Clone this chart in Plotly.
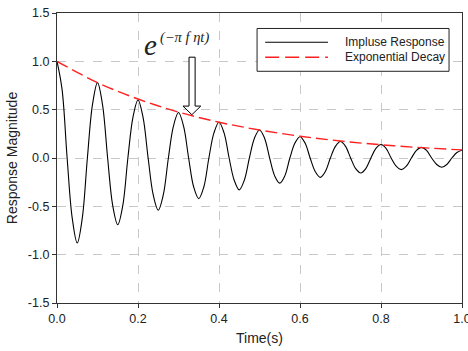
import plotly.graph_objects as go

# Impulse response every 1/80 s
t_resp = [0.0000, 0.0125, 0.0250, 0.0375, 0.0500, 0.0625, 0.0750, 0.0875,
          0.1000, 0.1125, 0.1250, 0.1375, 0.1500, 0.1625, 0.1750, 0.1875,
          0.2000, 0.2125, 0.2250, 0.2375, 0.2500, 0.2625, 0.2750, 0.2875,
          0.3000, 0.3125, 0.3250, 0.3375, 0.3500, 0.3625, 0.3750, 0.3875,
          0.4000, 0.4125, 0.4250, 0.4375, 0.4500, 0.4625, 0.4750, 0.4875,
          0.5000, 0.5125, 0.5250, 0.5375, 0.5500, 0.5625, 0.5750, 0.5875,
          0.6000, 0.6125, 0.6250, 0.6375, 0.6500, 0.6625, 0.6750, 0.6875,
          0.7000, 0.7125, 0.7250, 0.7375, 0.7500, 0.7625, 0.7750, 0.7875,
          0.8000, 0.8125, 0.8250, 0.8375, 0.8500, 0.8625, 0.8750, 0.8875,
          0.9000, 0.9125, 0.9250, 0.9375, 0.9500, 0.9625, 0.9750, 0.9875,
          1.0000]
y_resp = [1.00, 0.71, 0.0, -0.62, -0.88, -0.62, 0.0, 0.55,
          0.78, 0.55, 0.0, -0.49, -0.69, -0.49, 0.0, 0.42,
          0.60, 0.42, 0.0, -0.38, -0.54, -0.38, 0.0, 0.33,
          0.47, 0.33, 0.0, -0.30, -0.42, -0.30, 0.0, 0.26,
          0.37, 0.26, 0.0, -0.23, -0.33, -0.23, 0.0, 0.205,
          0.29, 0.205, 0.0, -0.185, -0.26, -0.185, 0.0, 0.155,
          0.22, 0.155, 0.0, -0.14, -0.20, -0.14, 0.0, 0.12,
          0.17, 0.12, 0.0, -0.11, -0.155, -0.11, 0.0, 0.10,
          0.14, 0.10, 0.0, -0.085, -0.12, -0.085, 0.0, 0.078,
          0.11, 0.078, 0.0, -0.067, -0.095, -0.067, 0.0, 0.057,
          0.08]

# Exponential decay envelope
t_env = [0.0, 0.1, 0.2, 0.3, 0.4, 0.5, 0.6, 0.7, 0.8, 0.9, 1.0]
y_env = [1.00, 0.78, 0.61, 0.475, 0.37, 0.29, 0.225, 0.176, 0.137, 0.107, 0.084]

x_ticks = [0.0, 0.2, 0.4, 0.6, 0.8, 1.0]
x_tick_text = ["0.0", "0.2", "0.4", "0.6", "0.8", "1.0"]
y_ticks = [-1.5, -1.0, -0.5, 0.0, 0.5, 1.0, 1.5]
y_tick_text = ["-1.5", "-1.0", "-0.5", "0.0", "0.5", "1.0", "1.5"]

series_names = ["Impluse Response", "Exponential Decay"]
formula_base = "<i>e</i>"
formula_exp = "<i>(−π f ηt)</i>"

SANS = "Liberation Sans, Arial"
SERIF = "Liberation Serif, Times New Roman"
RED = "#ff2020"

fig = go.Figure()
fig.add_trace(go.Scatter(x=t_resp, y=y_resp, mode="lines", name=series_names[0], showlegend=False,
                         line=dict(color="black", width=1.1, shape="spline", smoothing=1.0)))
fig.add_trace(go.Scatter(x=t_env, y=y_env, mode="lines", name=series_names[1], showlegend=False,
                         line=dict(color=RED, width=1.4, dash="12px,5px", shape="spline")))

axis_common = dict(showline=True, linecolor="#333", linewidth=1.2, mirror=True,
                   ticks="outside", ticklen=4, tickcolor="#333",
                   showgrid=True, gridcolor="#c8c8c8", griddash="dash", gridwidth=1,
                   zeroline=False, automargin=False,
                   tickfont=dict(family=SANS, size=12.5, color="#222"))

fig.update_xaxes(range=[0, 1.0], tickvals=x_ticks, ticktext=x_tick_text,
                 ticklabeloverflow="allow",
                 title=dict(text="Time(s)", font=dict(family=SANS, size=14, color="#222"), standoff=8),
                 **axis_common)
fig.update_yaxes(range=[-1.5, 1.5], tickvals=y_ticks, ticktext=y_tick_text,
                 title=dict(text="Response Magnitude", font=dict(family=SANS, size=14, color="#222"), standoff=6),
                 **axis_common)

# Hollow downward arrow
fig.add_shape(type="path", xref="x", yref="y",
              path="M 0.326 1.043 L 0.341 1.043 L 0.341 0.537 L 0.355 0.537 L 0.333 0.448 "
                   "L 0.311 0.537 L 0.326 0.537 Z",
              line=dict(color="black", width=1), fillcolor="white", layer="above")

fig.add_annotation(x=0.249, y=1.17, xref="x", yref="y", text=formula_base, showarrow=False,
                   xanchor="right", borderpad=0,
                   font=dict(family=SERIF, size=29, color="#222"))
fig.add_annotation(x=0.251, y=1.25, xref="x", yref="y", text=formula_exp, showarrow=False,
                   xanchor="left", borderpad=0,
                   font=dict(family=SERIF, size=14.5, color="#222"))

# Legend box drawn manually
fig.add_shape(type="rect", xref="x", yref="y", x0=0.494, x1=0.968, y0=0.897, y1=1.34,
              line=dict(color="#222", width=1), fillcolor="white", layer="above")
fig.add_shape(type="line", xref="x", yref="y", x0=0.514, x1=0.669, y0=1.198, y1=1.198,
              line=dict(color="black", width=1.1), layer="above")
fig.add_shape(type="line", xref="x", yref="y", x0=0.514, x1=0.669, y0=1.043, y1=1.043,
              line=dict(color=RED, width=1.4, dash="14px,6px"), layer="above")
fig.add_annotation(x=0.706, y=1.198, xref="x", yref="y", text=series_names[0], showarrow=False,
                   xanchor="left", yanchor="middle", font=dict(family=SANS, size=12, color="#222"))
fig.add_annotation(x=0.706, y=1.043, xref="x", yref="y", text=series_names[1], showarrow=False,
                   xanchor="left", yanchor="middle", font=dict(family=SANS, size=12, color="#222"))

fig.update_layout(
    width=468, height=351,
    margin=dict(l=57, r=6, t=13, b=48, autoexpand=False),
    paper_bgcolor="white", plot_bgcolor="white",
    showlegend=False,
)

fig.write_html("out.html")
